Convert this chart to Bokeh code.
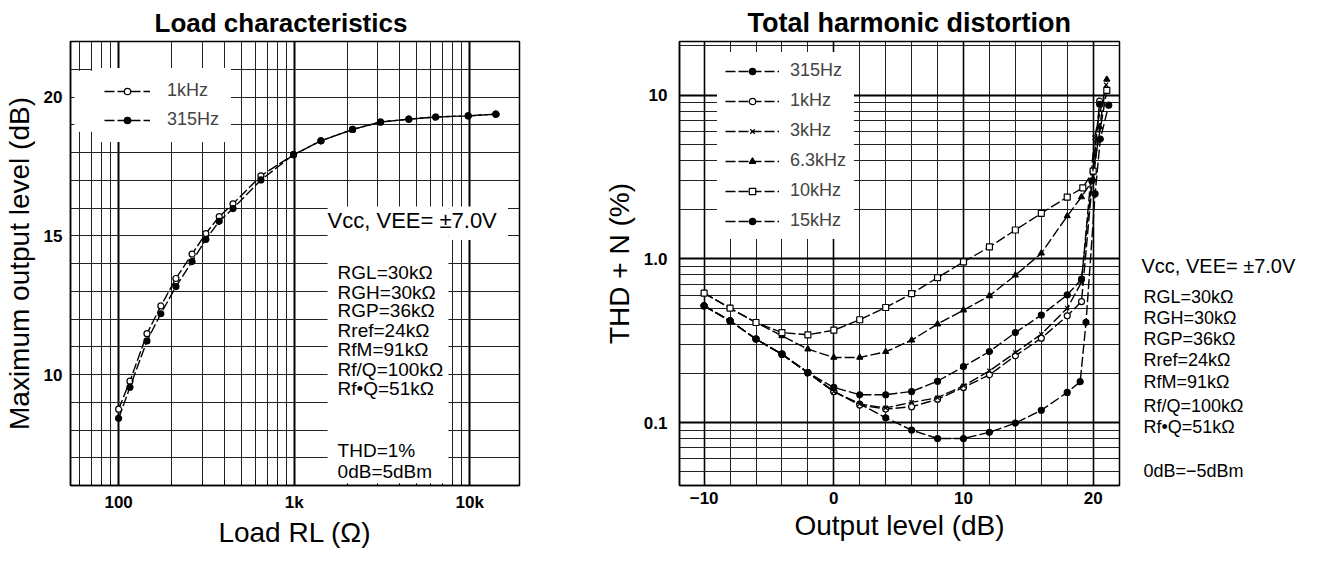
from bokeh.plotting import figure
from bokeh.models import (FixedTicker, CustomJSTickFormatter, Legend, LegendItem,
                          Label, Range1d, BoxAnnotation)
from bokeh.layouts import row
from bokeh.embed import file_html
from bokeh.resources import INLINE

FONT = "Liberation Sans"

# ---------------- Left chart data: Load characteristics ----------------
load_ohm = [100, 116, 145, 174, 212, 262, 314, 374, 448, 646, 990, 1420, 2150,
            3100, 4500, 6400, 9800, 14100]
max_out_1k = [8.75, 9.76, 11.47, 12.47, 13.46, 14.34, 15.08, 15.69, 16.15, 17.16,
              17.92, 18.42, 18.83, 19.10, 19.20, 19.28, 19.32, 19.38]
max_out_315 = [8.42, 9.54, 11.21, 12.19, 13.17, 14.07, 14.87, 15.52, 15.98, 17.01,
               17.92, 18.42, 18.83, 19.10, 19.20, 19.28, 19.32, 19.38]
load_ticks = [100, 1000, 10000]
load_minor = [60, 70, 80, 90, 200, 300, 400, 500, 600, 700, 800, 900,
              2000, 3000, 4000, 5000, 6000, 7000, 8000, 9000]
level_ticks = [10, 15, 20]
level_grid = list(range(6, 23))

# ---------------- Right chart data: THD + N ----------------
thd_315_x = [-10, -8, -6, -4, -2, 0, 2, 4, 6, 8, 10, 12, 14, 16, 18, 19.0, 19.45, 20.15, 20.55, 21.2]
thd_315 = [0.517, 0.419, 0.324, 0.262, 0.202, 0.155, 0.130, 0.107, 0.090, 0.080, 0.080,
           0.0873, 0.0994, 0.119, 0.153, 0.178, 0.41, 2.5, 5.4, 8.7]
thd_1k_x = [-10, -8, -6, -4, -2, 0, 2, 4, 6, 8, 10, 12, 14, 16, 18, 19.1, 20.0, 20.5]
thd_1k = [0.517, 0.419, 0.324, 0.262, 0.202, 0.155, 0.128, 0.121, 0.125, 0.139, 0.164,
          0.196, 0.256, 0.328, 0.449, 0.549, 3.4, 9.2]
thd_3k_x = [-10, -8, -6, -4, -2, 0, 2, 4, 6, 8, 10, 12, 14, 16, 18, 19.1, 20.1, 21.0]
thd_3k = [0.517, 0.419, 0.324, 0.262, 0.202, 0.155, 0.130, 0.123, 0.133, 0.142, 0.168,
          0.207, 0.268, 0.347, 0.500, 0.72, 5.5, 11.6]
thd_6k3_x = [-10, -8, -6, -4, -2, 0, 2, 4, 6, 8, 10, 12, 14, 16, 18, 19.1, 20.0, 20.5, 21.05]
thd_6k3 = [0.618, 0.500, 0.409, 0.339, 0.281, 0.250, 0.250, 0.271, 0.319, 0.400, 0.487,
           0.595, 0.795, 1.083, 1.83, 2.39, 3.06, 6.4, 12.5]
thd_10k_x = [-10, -8, -6, -4, -2, 0, 2, 4, 6, 8, 10, 12, 14, 16, 18, 19.2, 20.0, 21.05]
thd_10k = [0.618, 0.500, 0.409, 0.355, 0.344, 0.367, 0.425, 0.505, 0.614, 0.769, 0.959,
           1.184, 1.502, 1.899, 2.388, 2.72, 3.44, 10.7]
thd_15k_x = [-10, -8, -6, -4, -2, 0, 2, 4, 6, 8, 10, 12, 14, 16, 18, 19.1, 19.9, 20.5]
thd_15k = [0.517, 0.419, 0.324, 0.262, 0.202, 0.164, 0.148, 0.148, 0.155, 0.179, 0.220,
           0.272, 0.355, 0.454, 0.603, 0.752, 3.0, 8.8]
out_ticks = [-10, 0, 10, 20]
out_minor = [-8, -6, -4, -2, 2, 4, 6, 8, 12, 14, 16, 18]
thd_ticks = [0.1, 1, 10]
thd_minor = [0.05, 0.06, 0.07, 0.08, 0.09, 0.2, 0.3, 0.4, 0.5, 0.6, 0.7, 0.8, 0.9,
             2, 3, 4, 5, 6, 7, 8, 9, 20]

cond_lines = ["RGL=30kΩ", "RGH=30kΩ", "RGP=36kΩ", "Rref=24kΩ", "RfM=91kΩ",
              "Rf/Q=100kΩ", "Rf•Q=51kΩ"]

TOP, BOTTOM = 41, 61   # identical top/bottom borders so the row keeps frames aligned


def style_axes(p, title_size):
    p.outline_line_color = "black"
    p.outline_line_width = 1.5
    for ax in p.axis:
        ax.axis_line_color = "black"
        ax.axis_line_width = 1.5
        ax.major_tick_in = 0
        ax.major_tick_out = 0
        ax.minor_tick_in = 0
        ax.minor_tick_out = 0
        ax.major_label_text_font = FONT
        ax.major_label_text_font_style = "bold"
        ax.major_label_text_font_size = "17px"
        ax.major_label_text_color = "black"
        ax.axis_label_text_font = FONT
        ax.axis_label_text_font_style = "normal"
        ax.axis_label_text_font_size = "28px"
        ax.axis_label_text_color = "black"
    p.title.text_font = FONT
    p.title.text_font_size = title_size
    p.title.text_font_style = "bold"
    p.title.text_color = "black"
    p.title.align = "left"
    p.title.standoff = 8


def series(p, xs, ys, marker, fill, size):
    ln = p.line(xs, ys, line_color="black", line_width=1.4, line_dash="10 3")
    sc = p.scatter(xs, ys, marker=marker, size=size, line_color="black",
                   fill_color=fill, line_width=1.2)
    return [ln, sc]


def note(p, x, y, text, size):
    p.add_layout(Label(x=x, y=y, text=text, text_font=FONT, text_font_size=size,
                       text_baseline="middle", text_color="black"))


# ================= Left figure =================
p1 = figure(width=600, height=550, x_axis_type="log",
            x_range=Range1d(53.2, 19190), y_range=Range1d(6, 22),
            output_backend="svg", toolbar_location=None,
            min_border_left=65, min_border_right=81, min_border_top=TOP,
            min_border_bottom=BOTTOM, title="Load characteristics")
style_axes(p1, "26px")
p1.title.offset = 84
p1.xaxis.ticker = FixedTicker(ticks=load_ticks, minor_ticks=load_minor)
p1.xaxis.minor_tick_in = 5
p1.xaxis.minor_tick_line_color = "black"
p1.xaxis.formatter = CustomJSTickFormatter(
    code="return tick >= 1000 ? (tick/1000).toFixed(0) + 'k' : tick.toFixed(0);")
p1.yaxis.ticker = FixedTicker(ticks=level_ticks)
p1.xaxis.axis_label = "Load RL (Ω)"
p1.yaxis.axis_label = "Maximum output level (dB)"
p1.xaxis.major_label_standoff = 7
p1.xaxis.axis_label_standoff = 2
p1.yaxis.major_label_standoff = 8
p1.yaxis.axis_label_standoff = 6

p1.xgrid.ticker = FixedTicker(ticks=load_ticks, minor_ticks=load_minor)
p1.xgrid.grid_line_color = "black"
p1.xgrid.grid_line_width = 2
p1.xgrid.minor_grid_line_color = "#222222"
p1.xgrid.minor_grid_line_width = 1
p1.ygrid.ticker = FixedTicker(ticks=level_grid)
p1.ygrid.grid_line_color = "#222222"
p1.ygrid.grid_line_width = 1

r1k = series(p1, load_ohm, max_out_1k, "circle", "white", 6)
r315 = series(p1, load_ohm, max_out_315, "circle", "black", 6)

# white patch under the legend (covers the dense 60-90 ohm lines as in the original)
p1.add_layout(BoxAnnotation(left=56, right=410, top=20.95, bottom=18.75,
                            fill_color="white", fill_alpha=1, line_alpha=0))
leg1 = Legend(items=[LegendItem(label="1kHz", renderers=r1k),
                     LegendItem(label="315Hz", renderers=r315)],
              location=(22, 343), label_text_font=FONT, label_text_font_size="18px",
              glyph_width=46, glyph_height=16, label_standoff=17, spacing=8,
              padding=12, margin=0, border_line_alpha=0, background_fill_alpha=1)
p1.add_layout(leg1)

# white annotation area
p1.add_layout(BoxAnnotation(left=1549, right=7550, top=16.05, bottom=6.08,
                            fill_color="white", fill_alpha=1, line_alpha=0))
p1.add_layout(BoxAnnotation(left=7550, right=16500, top=16.05, bottom=14.85,
                            fill_color="white", fill_alpha=1, line_alpha=0))

note(p1, 1549, 15.54, "Vcc,  VEE= ±7.0V", "22px")
left_ys = [13.68, 12.96, 12.29, 11.57, 10.89, 10.18, 9.50]
for t, yv in zip(cond_lines, left_ys):
    note(p1, 1766, yv, t, "19px")
note(p1, 1766, 7.25, "THD=1%", "19px")
note(p1, 1766, 6.50, "0dB=5dBm", "19px")

# ================= Right figure =================
thd_range = Range1d(0.0413, 21.3)
p2 = figure(width=529, height=550, y_axis_type="log",
            x_range=Range1d(-11.9, 22.03), y_range=thd_range,
            output_backend="svg", toolbar_location=None,
            min_border_left=77, min_border_right=10, min_border_top=TOP,
            min_border_bottom=BOTTOM, title="Total harmonic distortion")
style_axes(p2, "27px")
p2.title.offset = 68
p2.xaxis.ticker = FixedTicker(ticks=out_ticks)
p2.xaxis.formatter = CustomJSTickFormatter(
    code="return tick < 0 ? '\u2212' + Math.abs(tick) : String(tick);")
p2.yaxis.ticker = FixedTicker(ticks=thd_ticks)
p2.yaxis.formatter = CustomJSTickFormatter(
    code="if (Math.abs(tick-1) < 1e-6) return '1.0'; if (tick < 0.5) return '0.1'; return String(Math.round(tick));")
p2.xaxis.axis_label = "Output level (dB)"
p2.yaxis.axis_label = "THD + N (%)"
p2.xaxis.major_label_standoff = 6
p2.xaxis.axis_label_standoff = 3
p2.yaxis.major_label_standoff = 12
p2.yaxis.axis_label_standoff = 6

p2.xgrid.ticker = FixedTicker(ticks=out_ticks, minor_ticks=out_minor)
p2.xgrid.grid_line_color = "black"
p2.xgrid.grid_line_width = 1.6
p2.xgrid.minor_grid_line_color = "#222222"
p2.xgrid.minor_grid_line_width = 1
p2.ygrid.ticker = FixedTicker(ticks=thd_ticks, minor_ticks=thd_minor)
p2.ygrid.grid_line_color = "black"
p2.ygrid.grid_line_width = 2
p2.ygrid.minor_grid_line_color = "#222222"
p2.ygrid.minor_grid_line_width = 1

s315 = series(p2, thd_315_x, thd_315, "circle", "black", 6)
s1k = series(p2, thd_1k_x, thd_1k, "circle", "white", 6)
s3k = series(p2, thd_3k_x, thd_3k, "x", "black", 6)
s6k3 = series(p2, thd_6k3_x, thd_6k3, "triangle", "black", 6)
s10k = series(p2, thd_10k_x, thd_10k, "square", "white", 6)
s15k = series(p2, thd_15k_x, thd_15k, "circle", "black", 6)

leg2 = Legend(items=[LegendItem(label="315Hz", renderers=s315),
                     LegendItem(label="1kHz", renderers=s1k),
                     LegendItem(label="3kHz", renderers=s3k),
                     LegendItem(label="6.3kHz", renderers=s6k3),
                     LegendItem(label="10kHz", renderers=s10k),
                     LegendItem(label="15kHz", renderers=s15k)],
              location=(38, 246), label_text_font=FONT, label_text_font_size="18px",
              glyph_width=54, glyph_height=16, label_standoff=11, spacing=9,
              padding=8, margin=0, border_line_alpha=0, background_fill_alpha=1)
p2.add_layout(leg2)

# ================= Notes beside the THD chart (same vertical scale) =================
p3 = figure(width=180, height=550, y_axis_type="log",
            x_range=Range1d(0, 180), y_range=thd_range,
            output_backend="svg", toolbar_location=None,
            x_axis_location=None, y_axis_location=None,
            min_border_left=0, min_border_right=0,
            min_border_top=TOP, min_border_bottom=BOTTOM)
p3.outline_line_color = None
p3.xgrid.visible = False
p3.ygrid.visible = False
note(p3, 12, 0.90, "Vcc,  VEE= ±7.0V", "20px")
right_ys = [0.585, 0.436, 0.325, 0.240, 0.176, 0.127, 0.094]
for t, yv in zip(cond_lines, right_ys):
    note(p3, 14, yv, t, "18px")
note(p3, 14, 0.051, "0dB=−5dBm", "18px")

layout = row(p1, p2, p3)
open("out.html", "w").write(file_html(layout, INLINE))
